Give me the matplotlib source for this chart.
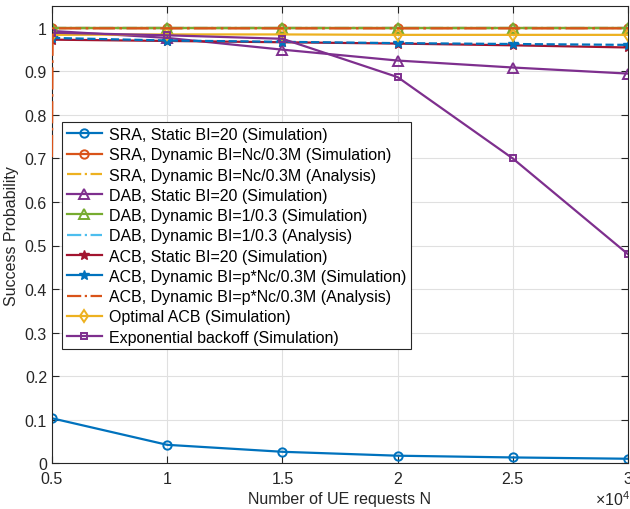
import numpy as np
import matplotlib
matplotlib.use("Agg")
import matplotlib.pyplot as plt
from matplotlib.lines import Line2D
from matplotlib.ticker import FuncFormatter

plt.rcParams['font.family'] = ['Liberation Sans', 'DejaVu Sans']
plt.rcParams['mathtext.fontset'] = 'custom'
plt.rcParams['mathtext.rm'] = 'Liberation Sans'

# number of UE requests
n_req = [5000, 10000, 15000, 20000, 25000, 30000]
# analysis curve is evaluated on a finer start
n_req_ana = [5000, 5030, 10000, 15000, 20000, 25000, 30000]

sra_static = [0.103, 0.042, 0.026, 0.017, 0.013, 0.010]
sra_dyn_sim = [0.999, 0.999, 0.999, 0.999, 0.999, 0.999]
sra_dyn_ana = [0.999, 0.999, 0.999, 0.999, 0.999, 0.999]
dab_static = [0.993, 0.977, 0.950, 0.925, 0.909, 0.895]
dab_dyn_sim = [0.999, 0.999, 0.999, 0.999, 0.999, 0.999]
dab_dyn_ana = [0.999, 0.999, 0.999, 0.999, 0.999, 0.999]
acb_static = [0.973, 0.970, 0.967, 0.964, 0.960, 0.955]
acb_dyn_sim = [0.977, 0.971, 0.968, 0.965, 0.963, 0.961]
acb_dyn_ana = [0.703, 0.999, 0.999, 0.999, 0.999, 0.999, 0.999]
opt_acb = [0.984, 0.985, 0.985, 0.984, 0.984, 0.984]
exp_backoff = [0.989, 0.983, 0.975, 0.887, 0.700, 0.480]

labels = [
    'SRA, Static BI=20 (Simulation)',
    'SRA, Dynamic BI=Nc/0.3M (Simulation)',
    'SRA, Dynamic BI=Nc/0.3M (Analysis)',
    'DAB, Static BI=20 (Simulation)',
    'DAB, Dynamic BI=1/0.3 (Simulation)',
    'DAB, Dynamic BI=1/0.3 (Analysis)',
    'ACB, Static BI=20 (Simulation)',
    'ACB, Dynamic BI=p*Nc/0.3M (Simulation)',
    'ACB, Dynamic BI=p*Nc/0.3M (Analysis)',
    'Optimal ACB (Simulation)',
    'Exponential backoff (Simulation)',
]

# MATLAB default colour order
c_blue = (0.0, 0.447, 0.741)
c_orange = (0.85, 0.325, 0.098)
c_yellow = (0.929, 0.694, 0.125)
c_purple = (0.494, 0.184, 0.556)
c_green = (0.466, 0.674, 0.188)
c_lblue = (0.301, 0.745, 0.933)
c_red = (0.635, 0.078, 0.184)

fig = plt.figure(figsize=(6.3, 5.1), dpi=100)
ax = fig.add_axes([0.0825, 0.090, 0.9143, 0.896])

lw = 1.6
mk = dict(markerfacecolor='none', markeredgewidth=1.4)
dashdot = (0, (10, 2, 1.2, 2))

h = []
h += ax.plot(n_req, sra_static, '-o', color=c_blue, lw=lw, ms=6, **mk)
h += ax.plot(n_req, sra_dyn_sim, '-o', color=c_orange, lw=lw, ms=6, **mk)
h += ax.plot(n_req, sra_dyn_ana, '-.', color=c_yellow, lw=lw)
h += ax.plot(n_req, dab_static, '-^', color=c_purple, lw=lw, ms=7, **mk)
h += ax.plot(n_req, dab_dyn_ana, '-.', color=c_lblue, lw=lw)
h += ax.plot(n_req, dab_dyn_sim, '-^', color=c_green, lw=lw, ms=7, **mk)
# keep legend order: DAB simulation before analysis
h[4], h[5] = h[5], h[4]
h += ax.plot(n_req, acb_static, '-*', color=c_red, lw=lw, ms=7)
ax.plot(n_req, acb_dyn_sim, '--*', color=c_blue, lw=lw, ms=7)
h.append(Line2D([], [], linestyle='-', marker='*', color=c_blue, lw=lw, ms=7))
ana, = ax.plot(n_req_ana, acb_dyn_ana, color=c_orange, lw=lw, zorder=3,
               linestyle=dashdot)
h.append(Line2D([], [], linestyle='-.', color=c_orange, lw=lw))
h += ax.plot(n_req, opt_acb, '-d', color=c_yellow, lw=lw, ms=6, **mk)
h += ax.plot(n_req, exp_backoff, '-s', color=c_purple, lw=lw, ms=5, **mk)

ax.set_xlim(5000, 30000)
ax.set_ylim(0, 1.05)
ax.set_xticks(n_req)
ax.set_yticks(np.arange(0, 1.01, 0.1))
ax.xaxis.set_major_formatter(FuncFormatter(lambda v, p: f'{v / 1e4:g}'))
ax.yaxis.set_major_formatter(FuncFormatter(lambda v, p: f'{v:.1f}'.rstrip('0').rstrip('.') if v else '0'))

axc = (0.15, 0.15, 0.15)
ax.grid(True, color=(0.88, 0.88, 0.88), lw=0.8)
ax.set_axisbelow(True)
ax.tick_params(direction='in', top=True, right=True, labelsize=11.5,
               colors=axc, length=5, width=0.8)
ax.tick_params(axis='x', pad=6)
for s in ax.spines.values():
    s.set_color(axc)
    s.set_linewidth(0.8)

ax.set_xlabel('Number of UE requests N', fontsize=11.5, color=axc, labelpad=3)
ax.set_ylabel('Success Probability', fontsize=11.5, color=axc, labelpad=4)
ax.text(1.003, -0.058, r'$\times\mathregular{10^4}$', transform=ax.transAxes,
        ha='right', va='top', fontsize=11.5, color=axc)

leg = ax.legend(h, labels, loc='upper left', bbox_to_anchor=(0.0174, 0.746),
                borderaxespad=0, fontsize=11.5, fancybox=False, framealpha=1,
                edgecolor=axc, handlelength=2.2, handletextpad=0.45,
                labelspacing=0.33, borderpad=0.3)
leg.get_frame().set_linewidth(0.8)

fig.savefig('out.png', dpi=100)
